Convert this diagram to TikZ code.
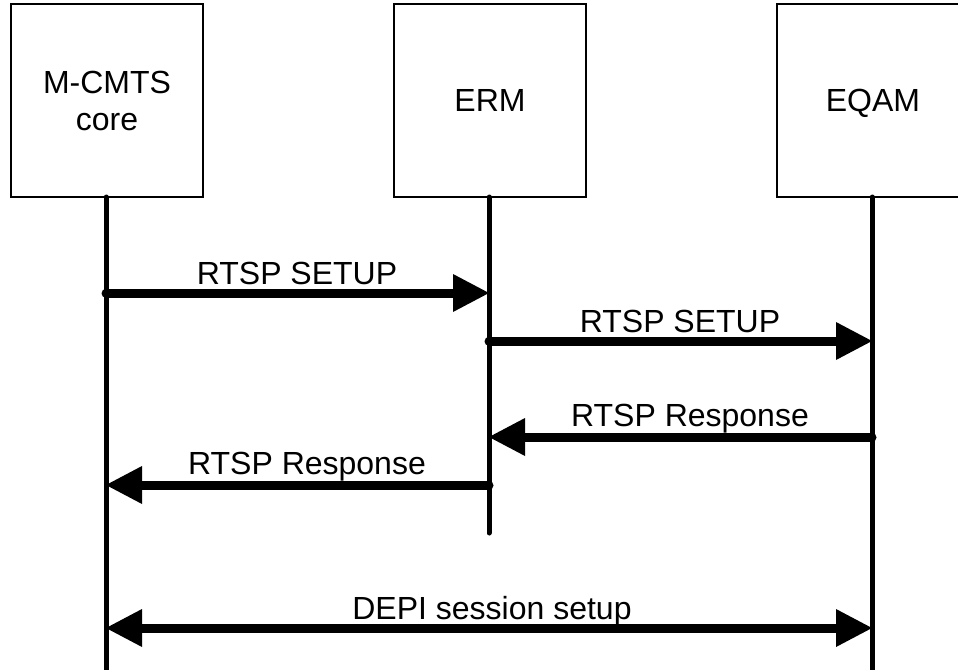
\documentclass[tikz,border=0pt]{standalone}
\usepackage{fontspec}
\setmainfont{Liberation Sans}
\usetikzlibrary{arrows.meta}
\begin{document}
\begin{tikzpicture}[x=1pt,y=-1pt,
  ent/.style={draw,line width=2pt,minimum width=192pt,minimum height=193pt,inner sep=0pt,align=center,font=\fontsize{32}{37}\selectfont},
  life/.style={line width=5pt,line cap=round},
  tipT/.tip={Triangle[length=36pt,width=38pt,line width=0pt]},
  msg/.style={line width=9pt,line cap=round,-tipT},
  dmsg/.style={line width=9pt,tipT-tipT},
  lbl/.style={font=\fontsize{32}{36}\selectfont,anchor=base,inner sep=0pt}]
\useasboundingbox (0,0) rectangle (958,669);
\node[ent] (core) at (107,100.5) {M-CMTS\\core};
\node[ent] (erm) at (490,100.5) {ERM};
\node[ent,text depth=0pt] (eqam) at (873,100.5) {EQAM};
\coordinate (coreEnd) at (106,672);
\coordinate (ermEnd) at (489,533);
\coordinate (eqamEnd) at (872,672);
\coordinate (coreTop) at (106,197);
\coordinate (ermTop) at (489,197);
\coordinate (eqamTop) at (872,197);
\draw[life] (coreTop) -- (coreEnd);
\draw[life] (ermTop) -- (ermEnd);
\draw[life] (eqamTop) -- (eqamEnd);
% message levels
\coordinate (y1) at (0,293);
\coordinate (y2) at (0,341);
\coordinate (y3) at (0,437);
\coordinate (y4) at (0,485);
\coordinate (y5) at (0,628);
\draw[msg] (coreTop |- y1) -- (ermTop |- y1);
\draw[msg] (ermTop |- y2) -- (eqamTop |- y2);
\draw[msg] (eqamTop |- y3) -- (ermTop |- y3);
\draw[msg] (ermTop |- y4) -- (coreTop |- y4);
\draw[dmsg] (coreTop |- y5) -- (eqamTop |- y5);
\node[lbl] (l1) at (297,284) {RTSP SETUP};
\node[lbl] (l2) at (680,332) {RTSP SETUP};
\node[lbl] (l3) at (690,426) {RTSP Response};
\node[lbl] (l4) at (307,474) {RTSP Response};
\node[lbl] (l5) at (492,619) {DEPI session setup};
\end{tikzpicture}
\end{document}
